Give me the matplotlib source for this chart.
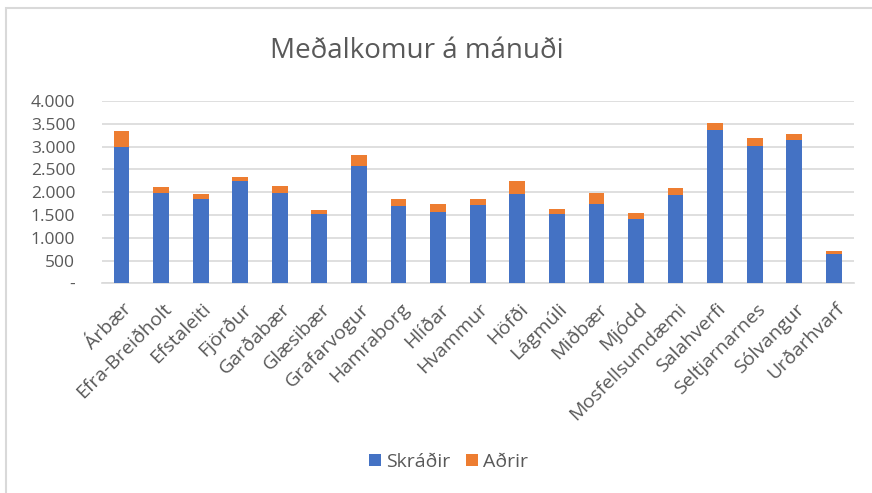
import matplotlib
matplotlib.use("Agg")
import matplotlib.pyplot as plt
from matplotlib.patches import Rectangle
from matplotlib.ticker import FuncFormatter
import matplotlib.transforms as mtransforms

categories = ["Árbær", "Efra-Breiðholt", "Efstaleiti", "Fjörður", "Garðabær", "Glæsibær",
              "Grafarvogur", "Hamraborg", "Hlíðar", "Hvammur", "Höfði", "Lágmúli", "Miðbær",
              "Mjódd", "Mosfellsumdæmi", "Salahverfi", "Seltjarnarnes", "Sólvangur", "Urðarhvarf"]
skradir = [3000, 1990, 1845, 2250, 1990, 1530, 2580, 1705, 1572, 1726, 1967, 1530, 1748,
           1420, 1940, 3370, 3013, 3152, 636]
adrir = [342, 123, 122, 90, 138, 80, 228, 145, 160, 124, 278, 100, 234, 117, 152, 155, 168, 117, 81]
yticks = [0, 500, 1000, 1500, 2000, 2500, 3000, 3500, 4000]

plt.rcParams['font.family'] = ['Open Sans', 'DejaVu Sans']
txt = '#595959'

fig = plt.figure(figsize=(8.72, 4.93), dpi=100)
ax = fig.add_axes([0.1166, 0.4254, 0.8624, 0.3696])

x = list(range(len(categories)))
ax.bar(x, skradir, width=0.40, color='#4472C4', label='Skráðir', zorder=3)
ax.bar(x, adrir, width=0.40, bottom=skradir, color='#ED7D31', label='Aðrir', zorder=3)

ax.set_xlim(-0.5, len(categories) - 0.5)
ax.set_ylim(0, 4000)
ax.set_yticks(yticks)

def fmt(v, pos):
    if v == 0:
        return '-'
    return f"{int(v):,}".replace(',', '.')
ax.yaxis.set_major_formatter(FuncFormatter(fmt))
ax.grid(axis='y', color='#d9d9d9', linewidth=1.2, zorder=0)
ax.set_axisbelow(True)
for s in ['top', 'right', 'left']:
    ax.spines[s].set_visible(False)
ax.spines['bottom'].set_color('#d9d9d9')
ax.spines['bottom'].set_linewidth(1.2)
ax.tick_params(axis='y', length=0, labelsize=12.5, colors=txt, pad=19)
ax.set_xticks(x)
ax.set_xticklabels(categories, rotation=45, ha='right', va='top', rotation_mode='anchor',
                   fontsize=14, color=txt)
ax.tick_params(axis='x', length=0, pad=12)
offset = mtransforms.ScaledTranslation(1 / 72, 0, fig.dpi_scale_trans)
for lab in ax.get_xticklabels():
    lab.set_transform(lab.get_transform() + offset)

fig.text(0.478, 0.896, 'Meðalkomur á mánuði', ha='center', va='center', fontsize=20,
         color=txt)

fig.legend(loc='center', bbox_to_anchor=(0.514, 0.063), ncol=2, frameon=False,
           fontsize=14, labelcolor=txt, handlelength=0.62, handleheight=0.62,
           handletextpad=0.25, columnspacing=0.8)

fig.patches.append(Rectangle((6 / 872, -0.05), 1.0, 1.05 - 8 / 493, transform=fig.transFigure,
                             fill=False, edgecolor='#d9d9d9', linewidth=1.5, clip_on=False))

fig.savefig('out.png', dpi=100, facecolor='white')
